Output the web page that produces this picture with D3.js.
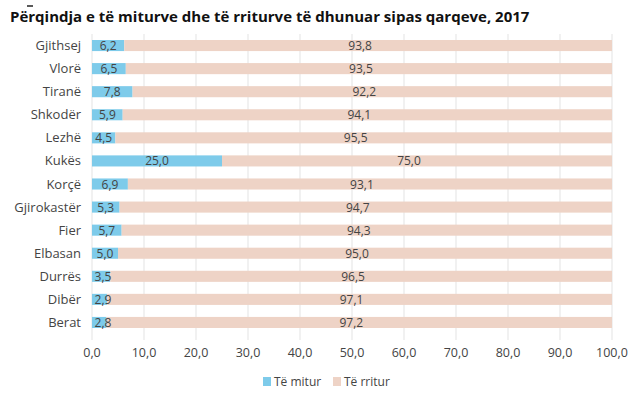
<!DOCTYPE html><html><head><meta charset="utf-8"><script src="https://cdn.jsdelivr.net/npm/d3@7"></script>
<style>body{margin:0;background:#fff}text{font-family:"Open Sans",sans-serif}</style></head><body><svg width="640" height="403"></svg>
<script>
const categories=["Gjithsej","Vlorë","Tiranë","Shkodër","Lezhë","Kukës","Korçë","Gjirokastër","Fier","Elbasan","Durrës","Dibër","Berat"];
const minors=[6.2,6.5,7.8,5.9,4.5,25.0,6.9,5.3,5.7,5.0,3.5,2.9,2.8];
const adults=[93.8,93.5,92.2,94.1,95.5,75.0,93.1,94.7,94.3,95.0,96.5,97.1,97.2];
const ticks=[0,10,20,30,40,50,60,70,80,90,100];
const fmt=v=>v.toFixed(1).replace(".",",");
const svg=d3.select("svg");
const x=d3.scaleLinear().domain([0,100]).range([92,612]);
const y=d3.scaleBand().domain(categories).range([34,334]).paddingInner(0.52).paddingOuter(0.26);
svg.append("text").attr("x",10).attr("y",22).attr("font-size",15).attr("font-weight","bold").attr("fill","#111").text("Përqindja e të miturve dhe të rriturve të dhunuar sipas qarqeve, 2017");
svg.append("line").attr("x1",27).attr("x2",33).attr("y1",6).attr("y2",6).attr("stroke","#222").attr("stroke-width",1.5);
svg.selectAll(".g").data(ticks).join("line").attr("x1",d=>x(d)).attr("x2",d=>x(d)).attr("y1",34).attr("y2",340).attr("stroke","#e3e3e3");
svg.selectAll(".tl").data(ticks).join("text").attr("x",d=>x(d)).attr("y",357).attr("text-anchor","middle").attr("font-size",12.5).attr("fill","#444").text(d=>fmt(d));
const rows=categories.map((c,i)=>({c,m:minors[i],a:adults[i]}));
const g=svg.append("g");
g.selectAll(".bm").data(rows).join("rect").attr("x",x(0)).attr("y",d=>y(d.c)).attr("height",y.bandwidth()).attr("width",d=>x(d.m)-x(0)).attr("fill","#7ecbea");
g.selectAll(".ba").data(rows).join("rect").attr("x",d=>x(d.m)).attr("y",d=>y(d.c)).attr("height",y.bandwidth()).attr("width",d=>x(d.m+d.a)-x(d.m)).attr("fill","#eed3c6");
g.selectAll(".lm").data(rows).join("text").attr("x",d=>Math.max(x(d.m/2),x(0)+11)).attr("y",d=>y(d.c)+y.bandwidth()/2+4.5).attr("text-anchor","middle").attr("font-size",12).attr("fill","#444").text(d=>fmt(d.m));
g.selectAll(".la").data(rows).join("text").attr("x",d=>x(d.m+d.a/2)-8).attr("y",d=>y(d.c)+y.bandwidth()/2+4.5).attr("text-anchor","middle").attr("font-size",12).attr("fill","#444").text(d=>fmt(d.a));
g.selectAll(".lc").data(rows).join("text").attr("x",81).attr("y",d=>y(d.c)+y.bandwidth()/2+4.5).attr("text-anchor","end").attr("font-size",13).attr("fill","#444").text(d=>d.c);
const lg=svg.append("g").attr("transform","translate(0,386)");
lg.append("rect").attr("x",263).attr("y",-9).attr("width",8).attr("height",9).attr("fill","#7ecbea");
lg.append("text").attr("x",274).attr("y",0).attr("font-size",12).attr("fill","#444").text("Të mitur");
lg.append("rect").attr("x",333).attr("y",-9).attr("width",8).attr("height",9).attr("fill","#eed3c6");
lg.append("text").attr("x",344).attr("y",0).attr("font-size",12).attr("fill","#444").text("Të rritur");
</script></body></html>
